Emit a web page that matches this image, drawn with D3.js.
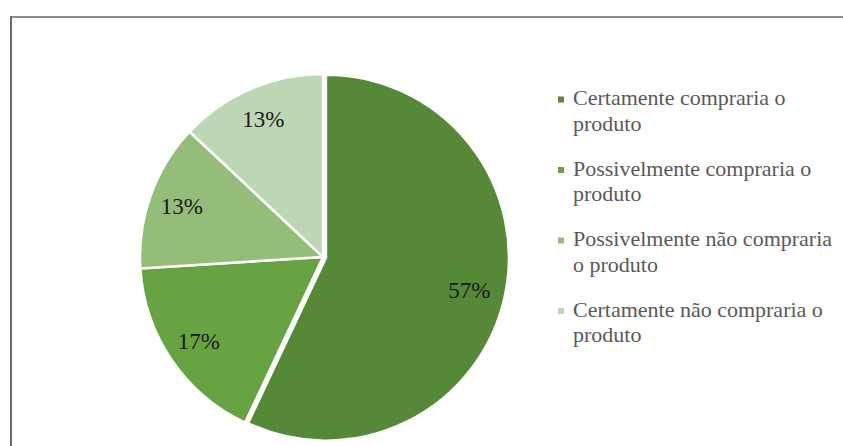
<!DOCTYPE html>
<html>
<head>
<meta charset="utf-8">
<script src="https://cdn.jsdelivr.net/npm/d3@7"></script>
<style>
  html, body { margin: 0; padding: 0; background: #fff; }
  svg { display: block; }
</style>
</head>
<body>
<div id="chart"></div>
<script>
// Chart data
const categories = [
    ["Certamente compraria o", "produto"],
    ["Possivelmente compraria o", "produto"],
    ["Possivelmente não compraria", "o produto"],
    ["Certamente não compraria o", "produto"]
];
const shares = [57, 17, 13, 13];
const sliceColors = ["#558837", "#68a343", "#93bd78", "#bdd6b3"];

const width = 843, height = 446;
const fontFamily = "'Liberation Serif', 'Times New Roman', serif";

const svg = d3.select("#chart")
    .append("svg")
    .attr("width", width)
    .attr("height", height);

// Frame of the chart area (bottom/right fall outside the picture)
svg.append("rect")
    .attr("x", 11)
    .attr("y", 17)
    .attr("width", width + 20)
    .attr("height", height + 20)
    .attr("fill", "none")
    .attr("stroke", "#8c8c8c")
    .attr("stroke-width", 2);
svg.append("line")
    .attr("x1", 11).attr("x2", 11)
    .attr("y1", 16).attr("y2", height)
    .attr("stroke", "#6b6b6b")
    .attr("stroke-width", 2);

// Pie
const cx = 323, cy = 257, radius = 183;
const pie = d3.pie().sort(null).value(d => d);
const arc = d3.arc().innerRadius(0).outerRadius(radius);
const labelArc = d3.arc().innerRadius(150).outerRadius(150);

const g = svg.append("g")
    .attr("transform", `translate(${cx},${cy})`);

const arcs = pie(shares);

g.selectAll(".slice")
    .data(arcs)
    .enter()
    .append("path")
    .attr("class", "slice")
    .attr("d", arc)
    .attr("fill", (d, i) => sliceColors[i])
    .attr("stroke", "#fff")
    .attr("stroke-width", 2.5)
    .attr("transform", (d, i) => {
        // first slice is pulled out slightly
        if (i !== 0) return null;
        const a = (d.startAngle + d.endAngle) / 2;
        return `translate(${Math.sin(a) * 3},${-Math.cos(a) * 3})`;
    });

g.selectAll(".pct")
    .data(arcs)
    .enter()
    .append("text")
    .attr("class", "pct")
    .attr("transform", d => `translate(${labelArc.centroid(d)})`)
    .attr("text-anchor", "middle")
    .attr("dy", "0.35em")
    .style("font-family", fontFamily)
    .style("font-size", "23px")
    .style("fill", "#1a1a1a")
    .text(d => d.data + "%");

// Legend
const legend = svg.append("g")
    .attr("transform", "translate(558,0)");

const item = legend.selectAll(".item")
    .data(categories)
    .enter()
    .append("g")
    .attr("class", "item")
    .attr("transform", (d, i) => `translate(0,${105 + i * 70.5})`);

item.append("rect")
    .attr("x", 0)
    .attr("y", -8.5)
    .attr("width", 6)
    .attr("height", 6)
    .attr("fill", (d, i) => sliceColors[i]);

item.append("text")
    .style("font-family", fontFamily)
    .style("font-size", "22px")
    .style("fill", "#595959")
    .selectAll("tspan")
    .data(d => d)
    .enter()
    .append("tspan")
    .attr("x", 15)
    .attr("y", (d, j) => j * 25.5)
    .text(d => d);
</script>
</body>
</html>
